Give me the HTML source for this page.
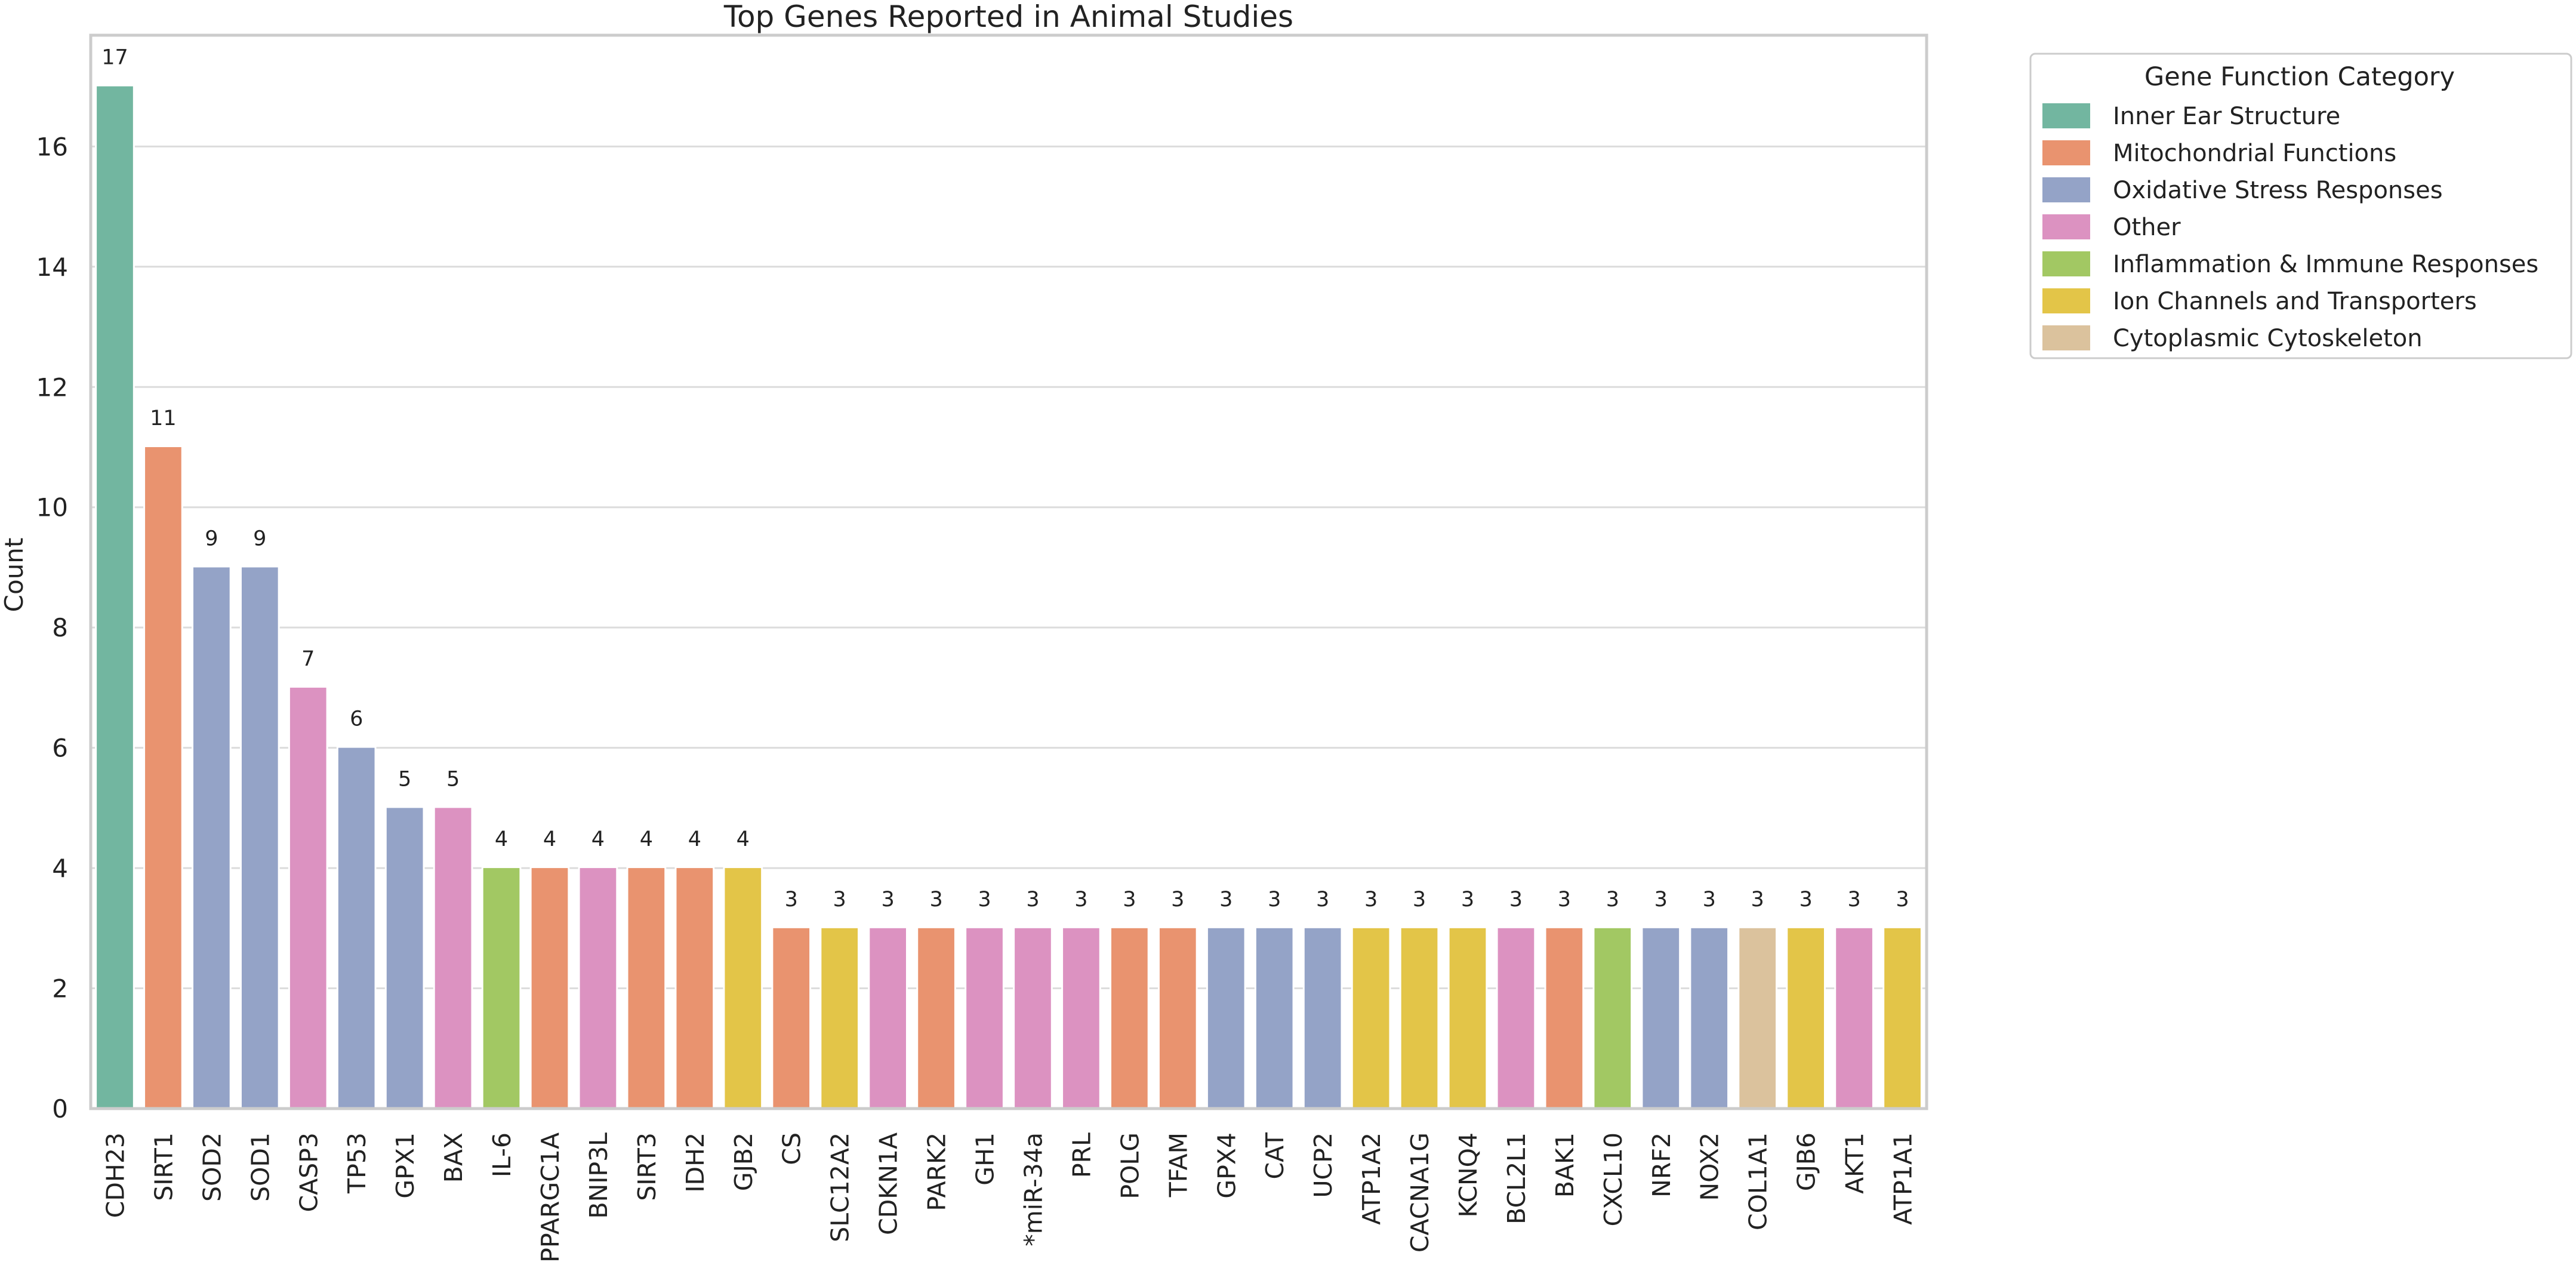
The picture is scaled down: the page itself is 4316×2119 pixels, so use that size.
<!DOCTYPE html>
<html><head><meta charset="utf-8"><style>
html,body{margin:0;padding:0;background:#fff;}
svg{display:block;font-family:"DejaVu Sans","Liberation Sans",sans-serif;}
</style></head><body>
<svg id="chart" width="4316" height="2119" viewBox="0 0 4316 2119">
<text x="1690" y="45" font-size="50" text-anchor="middle" fill="#222">Top Genes Reported in Animal Studies</text>
<g id="grid"></g>
<g id="bars"></g>
<rect x="152" y="59" width="3076" height="1798" fill="none" stroke="#cccccc" stroke-width="5"/>
<g id="yticks"></g>
<g id="xticks"></g>
<text transform="translate(38,963) rotate(-90)" font-size="42" text-anchor="middle" fill="#222">Count</text>
<g id="legend">
<rect x="3402" y="90" width="906" height="510" rx="8" fill="#fff" stroke="#cccccc" stroke-width="3"/>
<text x="3853" y="143" font-size="43" text-anchor="middle" fill="#222">Gene Function Category</text>
</g>
</svg>
<script>
const genes = ["CDH23","SIRT1","SOD2","SOD1","CASP3","TP53","GPX1","BAX","IL-6","PPARGC1A","BNIP3L","SIRT3","IDH2","GJB2","CS","SLC12A2","CDKN1A","PARK2","GH1","*miR-34a","PRL","POLG","TFAM","GPX4","CAT","UCP2","ATP1A2","CACNA1G","KCNQ4","BCL2L1","BAK1","CXCL10","NRF2","NOX2","COL1A1","GJB6","AKT1","ATP1A1"];
const counts = [17,11,9,9,7,6,5,5,4,4,4,4,4,4,3,3,3,3,3,3,3,3,3,3,3,3,3,3,3,3,3,3,3,3,3,3,3,3];
const geneCategory = [0,1,2,2,3,2,2,3,4,1,3,1,1,5,1,5,3,1,3,3,3,1,1,2,2,2,5,5,5,3,1,4,2,2,6,5,3,5];
const categories = ["Inner Ear Structure","Mitochondrial Functions","Oxidative Stress Responses","Other","Inflammation & Immune Responses","Ion Channels and Transporters","Cytoplasmic Cytoskeleton"];
const yTicks = [0,2,4,6,8,10,12,14,16];
const colors = ["#72b6a0","#e9936f","#94a3c7","#dc92c1","#a2c863","#e3c548","#dbc29d"];

const NS="http://www.w3.org/2000/svg";
const L=152,R=3228,T=59,B=1857;
const yMax=Math.max(...counts)*1.05;
const band=(R-L)/genes.length;
const xC=i=>L+band*(i+0.5);
const yS=v=>B-(B-T)*v/yMax;
function mk(tag,attrs,parent,txt){const e=document.createElementNS(NS,tag);for(const k in attrs)e.setAttribute(k,attrs[k]);if(txt!==undefined)e.textContent=txt;parent.appendChild(e);return e;}
const grid=document.getElementById('grid'),bars=document.getElementById('bars'),yt=document.getElementById('yticks'),xt=document.getElementById('xticks'),lg=document.getElementById('legend');
yTicks.forEach(v=>{
  const ln=mk('line',{x1:L,x2:R,y1:yS(v),y2:yS(v),stroke:'#dcdcdc','stroke-width':3},grid);
  
  
  const t=mk('text',{x:114,y:yS(v)+15,'font-size':42,'text-anchor':'end',fill:'#222'},yt,String(v));
  
  
});
const bw=band*0.75;
genes.forEach((g,i)=>{
  const y=yS(counts[i]);
  const r=mk('rect',{x:xC(i)-bw/2,y:y,width:bw,height:B-y,fill:colors[geneCategory[i]],stroke:'#fff','stroke-width':6,'paint-order':'stroke'},bars);
  
  
  const v=mk('text',{x:xC(i),y:y-37,'font-size':35,'text-anchor':'middle',fill:'#222'},bars,String(counts[i]));
  
  
  const t=mk('text',{transform:`translate(${xC(i)+15},1897) rotate(-90)`,'font-size':41,'text-anchor':'end',fill:'#222'},xt,g);
  
  
});
categories.forEach((c,k)=>{
  const cy=193+k*62;
  const s=mk('rect',{x:3422,y:cy-20,width:80,height:42,fill:colors[k]},lg);
  
  
  const t=mk('text',{x:3540,y:cy+15,'font-size':40,fill:'#222'},lg,c);
  
  
});
</script>
</body></html>
